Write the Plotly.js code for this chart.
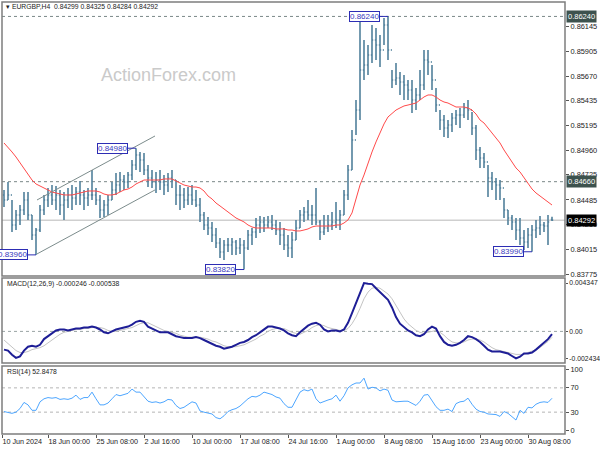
<!DOCTYPE html>
<html><head><meta charset="utf-8">
<script src="https://cdn.plot.ly/plotly-3.0.1.min.js"></script>
<style>html,body{margin:0;padding:0;background:#fff}#chart{width:600px;height:450px}</style>
</head><body><div id="chart"></div>
<script>
// ---- price bars (EURGBP H4, each bar ~ 3 H4 candles) ----
const high = [0.84581,0.84657,0.84485,0.84389,0.84437,0.84561,0.84561,0.84342,0.84217,0.84437,
0.84533,0.84600,0.84628,0.84619,0.84581,0.84561,0.84600,0.84628,0.84609,0.84667,
0.84581,0.84600,0.84772,0.84600,0.84533,0.84485,0.84533,0.84657,0.84743,0.84753,
0.84724,0.84753,0.84867,0.84980,0.84944,0.84934,0.84820,0.84772,0.84753,0.84772,
0.84724,0.84743,0.84772,0.84676,0.84628,0.84600,0.84609,0.84628,0.84581,0.84504,
0.84370,0.84322,0.84275,0.84217,0.84122,0.84103,0.84122,0.84122,0.84103,0.84122,
0.84103,0.84198,0.84217,0.84313,0.84332,0.84322,0.84332,0.84342,0.84294,0.84275,
0.84217,0.84150,0.84179,0.84294,0.84389,0.84418,0.84485,0.84437,0.84600,0.84294,
0.84342,0.84342,0.84370,0.84466,0.84389,0.84581,0.84820,0.85154,0.85441,0.86206,
0.86015,0.85967,0.86158,0.86129,0.86062,0.86225,0.86240,0.85728,0.85795,0.85709,
0.85680,0.85632,0.85632,0.85556,0.85728,0.85919,0.85919,0.85776,0.85556,0.85345,
0.85298,0.85250,0.85317,0.85345,0.85365,0.85412,0.85441,0.85326,0.85202,0.84992,
0.84934,0.84820,0.84753,0.84695,0.84676,0.84504,0.84389,0.84342,0.84313,0.84313,
0.84198,0.84217,0.84246,0.84294,0.84332,0.84275,0.84342,0.84325];
const low = [0.84418,0.84485,0.84179,0.84198,0.84246,0.84342,0.84294,0.84103,0.83960,0.84179,
0.84342,0.84418,0.84437,0.84389,0.84342,0.84294,0.84409,0.84389,0.84437,0.84437,
0.84389,0.84428,0.84485,0.84437,0.84313,0.84322,0.84342,0.84485,0.84533,0.84561,
0.84581,0.84600,0.84676,0.84772,0.84753,0.84724,0.84609,0.84600,0.84552,0.84581,
0.84533,0.84561,0.84600,0.84437,0.84389,0.84409,0.84437,0.84437,0.84418,0.84275,
0.84198,0.84150,0.84083,0.84026,0.83931,0.83911,0.83988,0.83959,0.83959,0.83969,
0.83820,0.84007,0.84055,0.84122,0.84170,0.84179,0.84217,0.84198,0.84150,0.84055,
0.84007,0.83940,0.83931,0.84103,0.84217,0.84275,0.84294,0.84246,0.84246,0.84103,
0.84150,0.84179,0.84198,0.84217,0.84198,0.84342,0.84485,0.84772,0.85106,0.85250,
0.85632,0.85680,0.85795,0.85823,0.85757,0.85967,0.85823,0.85556,0.85584,0.85489,
0.85441,0.85441,0.85317,0.85345,0.85441,0.85537,0.85680,0.85537,0.85326,0.85154,
0.85087,0.85078,0.85135,0.85202,0.85173,0.85269,0.85250,0.85106,0.84867,0.84791,
0.84791,0.84514,0.84581,0.84485,0.84485,0.84313,0.84246,0.84198,0.84103,0.84055,
0.84007,0.84026,0.83990,0.84122,0.84150,0.84179,0.84055,0.84284];
const close = [0.84485,0.84533,0.84246,0.84342,0.84389,0.84485,0.84342,0.84150,0.84198,0.84389,
0.84485,0.84533,0.84485,0.84533,0.84437,0.84485,0.84533,0.84504,0.84561,0.84533,
0.84504,0.84533,0.84533,0.84485,0.84389,0.84437,0.84485,0.84581,0.84628,0.84676,
0.84657,0.84724,0.84820,0.84915,0.84867,0.84772,0.84695,0.84657,0.84676,0.84657,
0.84628,0.84695,0.84676,0.84533,0.84533,0.84485,0.84533,0.84485,0.84437,0.84342,
0.84246,0.84217,0.84150,0.84074,0.83988,0.84055,0.84055,0.84083,0.84026,0.84055,
0.84026,0.84150,0.84179,0.84246,0.84275,0.84246,0.84275,0.84246,0.84198,0.84150,
0.84055,0.84026,0.84103,0.84217,0.84342,0.84370,0.84342,0.84342,0.84275,0.84179,
0.84217,0.84246,0.84275,0.84294,0.84342,0.84533,0.84772,0.85059,0.85345,0.85728,
0.85776,0.85871,0.86015,0.85967,0.85919,0.86158,0.85919,0.85632,0.85651,0.85613,
0.85584,0.85537,0.85441,0.85489,0.85584,0.85823,0.85804,0.85632,0.85393,0.85250,
0.85173,0.85202,0.85269,0.85298,0.85298,0.85365,0.85345,0.85173,0.84963,0.84887,
0.84848,0.84695,0.84657,0.84628,0.84600,0.84389,0.84313,0.84275,0.84198,0.84122,
0.84083,0.84150,0.84198,0.84217,0.84246,0.84236,0.84275,0.84292];
const firstOpen = 0.84533;
const lastOpen = 0.84299;

// ---- moving average (red) ----
const ma = [0.85030,0.84992,0.84944,0.84896,0.84839,0.84781,0.84724,0.84676,0.84638,0.84619,
0.84600,0.84581,0.84561,0.84552,0.84542,0.84533,0.84533,0.84533,0.84542,0.84552,
0.84561,0.84571,0.84571,0.84571,0.84561,0.84542,0.84533,0.84533,0.84542,0.84561,
0.84581,0.84590,0.84609,0.84638,0.84657,0.84676,0.84676,0.84676,0.84676,0.84676,
0.84686,0.84686,0.84686,0.84667,0.84648,0.84628,0.84619,0.84609,0.84609,0.84600,
0.84571,0.84523,0.84495,0.84456,0.84428,0.84399,0.84370,0.84342,0.84313,0.84294,
0.84275,0.84246,0.84227,0.84217,0.84217,0.84217,0.84217,0.84217,0.84208,0.84208,
0.84208,0.84198,0.84198,0.84189,0.84189,0.84198,0.84208,0.84227,0.84236,0.84236,
0.84236,0.84236,0.84236,0.84246,0.84246,0.84265,0.84294,0.84361,0.84485,0.84628,
0.84724,0.84839,0.84944,0.85040,0.85126,0.85212,0.85279,0.85317,0.85345,0.85365,
0.85384,0.85393,0.85403,0.85412,0.85441,0.85470,0.85489,0.85489,0.85470,0.85441,
0.85422,0.85412,0.85393,0.85374,0.85374,0.85374,0.85365,0.85345,0.85307,0.85250,
0.85221,0.85173,0.85135,0.85087,0.85030,0.84963,0.84906,0.84839,0.84791,0.84753,
0.84695,0.84638,0.84590,0.84552,0.84523,0.84495,0.84466,0.84437];

// ---- MACD(12,26,9) ----
const macd = [-0.001638,-0.001724,-0.002100,-0.002380,-0.002250,-0.001724,-0.001379,-0.001293,-0.001379,-0.001207,
-0.000690,-0.000431,-0.000172,0.000086,0.000172,0.000172,0.000086,0.000172,0.000259,0.000259,
0.000345,0.000345,0.000431,0.000345,0.000172,-0.000086,-0.000172,0,0.000172,0.000259,
0.000345,0.000431,0.000603,0.000862,0.000948,0.000862,0.000431,0.000259,0.000086,-0.000086,
-0.000086,-0.000086,-0.000259,-0.000431,-0.000517,-0.000603,-0.000603,-0.000603,-0.000517,-0.000603,
-0.000776,-0.000948,-0.001121,-0.001293,-0.001379,-0.001552,-0.001465,-0.001379,-0.001207,-0.001034,
-0.000948,-0.000776,-0.000517,-0.000345,-0.000086,0.000172,0.000431,0.000431,0.000345,0.000259,
0.000086,-0.000172,-0.000345,-0.000431,-0.000086,0.000259,0.000517,0.000690,0.000776,0.000603,
0.000172,0,0.000086,0.000086,0,0.000172,0.000776,0.001638,0.002500,0.003448,
0.004347,0.004280,0.004250,0.003879,0.003534,0.003276,0.002845,0.002155,0.001293,0.000690,
0.000345,0.000086,-0.000086,-0.000345,-0.000431,-0.000259,0.000172,0.000431,0.000259,-0.000431,
-0.000948,-0.001207,-0.001293,-0.001207,-0.001034,-0.000776,-0.000431,-0.000517,-0.000690,-0.000948,
-0.001293,-0.001638,-0.001810,-0.001810,-0.001810,-0.001896,-0.001983,-0.002210,-0.002434,-0.002280,
-0.001983,-0.001983,-0.001896,-0.001638,-0.001350,-0.001050,-0.000700,-0.000246];
const signal = [-0.000776,-0.001121,-0.001465,-0.001724,-0.001896,-0.001896,-0.001810,-0.001638,-0.001552,-0.001465,
-0.001293,-0.001034,-0.000776,-0.000517,-0.000259,-0.000086,0,0.000086,0.000172,0.000172,
0.000259,0.000259,0.000345,0.000345,0.000345,0.000259,0.000086,0,0,0.000086,
0.000172,0.000259,0.000345,0.000517,0.000690,0.000776,0.000776,0.000603,0.000431,0.000259,
0.000086,0,-0.000086,-0.000172,-0.000345,-0.000431,-0.000517,-0.000517,-0.000517,-0.000517,
-0.000603,-0.000690,-0.000862,-0.000948,-0.001121,-0.001293,-0.001379,-0.001379,-0.001379,-0.001293,
-0.001207,-0.001034,-0.000862,-0.000690,-0.000431,-0.000259,0,0.000172,0.000259,0.000259,
0.000259,0.000086,-0.000086,-0.000172,-0.000259,-0.000086,0.000086,0.000345,0.000517,0.000603,
0.000517,0.000345,0.000259,0.000172,0.000086,0.000086,0.000259,0.000690,0.001293,0.002069,
0.002931,0.003534,0.003879,0.003965,0.003879,0.003620,0.003362,0.002931,0.002327,0.001724,
0.001121,0.000690,0.000345,0.000086,-0.000086,-0.000172,-0.000086,0,0.000086,-0.000086,
-0.000345,-0.000690,-0.000948,-0.001034,-0.001034,-0.000948,-0.000776,-0.000690,-0.000690,-0.000776,
-0.000948,-0.001207,-0.001465,-0.001638,-0.001724,-0.001810,-0.001896,-0.001983,-0.002069,-0.002069,
-0.002069,-0.001900,-0.001800,-0.001650,-0.001450,-0.001200,-0.000900,-0.000538];

// ---- RSI(14) ----
const rsi = [31,30,28,30,36,46,42,33,33,47,
52,54,53,54,51,52,51,53,58,51,
54,54,63,52,42,42,45,52,59,57,
59,61,68,63,63,55,48,46,47,45,
47,51,50,41,36,38,42,47,45,32,
30,28,27,21,19,24,31,34,36,40,
46,52,56,55,58,63,61,59,55,53,
44,38,38,50,63,67,65,68,52,45,
48,50,52,58,48,57,70,75,78,78,
86,68,71,70,65,68,66,50,47,48,
48,48,45,41,48,58,59,49,39,33,
33,35,31,44,47,48,53,43,35,31,
30,27,26,26,23,31,28,23,17,33,
28,38,37,43,46,47,46,52.8478];

// ---- axis labels ----
const priceTicks = [0.86145,0.85905,0.85670,0.85435,0.85195,0.84960,0.84725,0.84485,0.84250,0.84015,0.83775];
const macdTicks = [0.004347,0,-0.002434];
const macdTickText = ['0.004347','0.00','-0.002434'];
const rsiTicks = [100,70,30,0];
const timeTickIdx = [-0.5,11,23,35,47,59,71,83,95,107,119,131];
const timeTickText = ['10 Jun 2024','18 Jun 00:00','25 Jun 08:00','2 Jul 16:00','10 Jul 00:00','17 Jul 08:00',
  '24 Jul 16:00','1 Aug 00:00','8 Aug 08:00','15 Aug 16:00','23 Aug 00:00','30 Aug 08:00'];

// ---- chart objects ----
const dottedLevels = [0.86240, 0.84660];
const currentPrice = 0.84292;
const pivotIdx = [8, 33, 60, 96, 132];
const pivotPrice = [0.83960, 0.84980, 0.83820, 0.86240, 0.83990];
const channelIdx = [8.25, 37.75];
const channelUpper = [0.84485, 0.85097];
const channelLower = [0.83969, 0.84581];
const rsiLevels = [70, 30];

const idx = close.map((_, i) => i);
const open = [firstOpen].concat(close.slice(0, -1));
open[open.length - 1] = lastOpen;

const BAR = '#52819c';
const traces = [
  {type:'ohlc', x:idx, open:open, high:high, low:low, close:close, xaxis:'x', yaxis:'y',
   increasing:{line:{color:BAR, width:1.6}}, decreasing:{line:{color:BAR, width:1.6}},
   tickwidth:0.3, hoverinfo:'skip', showlegend:false},
  {type:'scatter', mode:'lines', x:idx, y:ma, yaxis:'y', line:{color:'#ff4a4a', width:1}, hoverinfo:'skip'},
  {type:'scatter', mode:'lines', x:channelIdx, y:channelUpper, yaxis:'y', line:{color:'#7c8c8c', width:1}, hoverinfo:'skip'},
  {type:'scatter', mode:'lines', x:channelIdx, y:channelLower, yaxis:'y', line:{color:'#7c8c8c', width:1}, hoverinfo:'skip'},
  {type:'scatter', mode:'lines', x:idx, y:signal, yaxis:'y2', line:{color:'#c4c4c4', width:1}, hoverinfo:'skip'},
  {type:'scatter', mode:'lines', x:idx, y:macd, yaxis:'y2', line:{color:'#1e1e96', width:2}, hoverinfo:'skip'},
  {type:'scatter', mode:'lines', x:idx, y:rsi, yaxis:'y3', line:{color:'#4da6ff', width:1}, hoverinfo:'skip'}
];

const FONT = 'Liberation Sans, Arial, sans-serif';
const shapes = [];
dottedLevels.forEach(v => shapes.push({type:'line', xref:'x domain', x0:0, x1:1, yref:'y', y0:v, y1:v,
  line:{color:'#7a8888', width:1, dash:'dot'}, layer:'below'}));
shapes.push({type:'line', xref:'x domain', x0:0, x1:1, yref:'y', y0:currentPrice, y1:currentPrice,
  line:{color:'#cfcfcf', width:1.5}, layer:'below'});
shapes.push({type:'line', xref:'x domain', x0:0, x1:1, yref:'y2', y0:0, y1:0,
  line:{color:'#9aa4a4', width:1, dash:'dot'}, layer:'below'});
rsiLevels.forEach(v => shapes.push({type:'line', xref:'x domain', x0:0, x1:1, yref:'y3', y0:v, y1:v,
  line:{color:'#b4b4b4', width:1, dash:'dot'}, layer:'below'}));
['y','y2','y3'].forEach(a => shapes.push({type:'rect', xref:'x domain', x0:0, x1:1, yref:a+' domain', y0:0, y1:1,
  line:{color:'#7d7d7d', width:1.5}, layer:'above'}));

const annotations = [
  {xref:'paper', yref:'paper', x:0.003, y:0.989, xanchor:'left', yanchor:'middle', showarrow:false,
   text:'▾ EURGBP,H4  0.84299 0.84325 0.84284 0.84292', font:{family:FONT, size:6.8, color:'#222'}},
  {xref:'paper', yref:'paper', x:0.005, y:0.347, xanchor:'left', yanchor:'middle', showarrow:false,
   text:'MACD(12,26,9) -0.000246 -0.000538', font:{family:FONT, size:6.8, color:'#222'}},
  {xref:'paper', yref:'paper', x:0.005, y:0.144, xanchor:'left', yanchor:'middle', showarrow:false,
   text:'RSI(14) 52.8478', font:{family:FONT, size:6.8, color:'#222'}},
  {xref:'paper', yref:'paper', x:0.295, y:0.831, xanchor:'center', yanchor:'middle', showarrow:false,
   text:'ActionForex.com', font:{family:FONT, size:18, color:'#cacaca'}}
];
pivotIdx.forEach((p, k) => annotations.push({x:p, y:pivotPrice[k], xref:'x', yref:'y',
  text:pivotPrice[k].toFixed(5), showarrow:true, arrowhead:0, arrowwidth:1, arrowcolor:'#2d2db4',
  ax:-24, ay:0, standoff:0, bordercolor:'#2d2db4', borderwidth:1, borderpad:0, bgcolor:'#ffffff',
  font:{family:FONT, size:8, color:'#3a3ac0'}}));
[[0.86240,'#3d524e'],[0.84660,'#3d524e'],[currentPrice,'#000000']].forEach(([v,c]) => annotations.push({
  xref:'paper', x:1, xanchor:'left', xshift:1, yref:'y', y:v, yanchor:'middle', showarrow:false,
  text:v.toFixed(5), bgcolor:c, borderpad:1, font:{family:FONT, size:7.5, color:'#ffffff'}}));

const yCommon = {side:'right', ticks:'outside', ticklen:3, tickcolor:'#555', showgrid:false, zeroline:false,
  showline:false, fixedrange:true, ticklabelstandoff:0, tickfont:{family:FONT, size:7.4, color:'#1a1a1a'}};

const layout = {
  width:600, height:450, margin:{l:2, r:35, t:2, b:16},
  paper_bgcolor:'#ffffff', plot_bgcolor:'#ffffff', showlegend:false,
  font:{family:FONT, size:7.4, color:'#1a1a1a'},
  xaxis:{anchor:'y3', range:[-0.5, 140.25], tickvals:timeTickIdx, ticktext:timeTickText, tickangle:0,
    ticks:'outside', ticklen:3, tickcolor:'#555', ticklabelposition:'outside right',
    showgrid:false, zeroline:false, showline:false, rangeslider:{visible:false},
    tickfont:{family:FONT, size:7.2, color:'#1a1a1a'}, fixedrange:true},
  yaxis:Object.assign({}, yCommon, {domain:[0.3657, 1], range:[0.83758, 0.86378],
    tickvals:priceTicks, ticktext:priceTicks.map(v => v.toFixed(5))}),
  yaxis2:Object.assign({}, yCommon, {domain:[0.1644, 0.3611], range:[-0.00284, 0.0048],
    tickvals:macdTicks, ticktext:macdTickText, ticklen:2, tickfont:{family:FONT, size:6.8, color:'#1a1a1a'}}),
  yaxis3:Object.assign({}, yCommon, {domain:[0, 0.1574], range:[-6, 106],
    tickvals:rsiTicks, ticktext:rsiTicks.map(String)}),
  shapes:shapes, annotations:annotations
};

Plotly.newPlot('chart', traces, layout, {staticPlot:true, displayModeBar:false});
</script></body></html>
